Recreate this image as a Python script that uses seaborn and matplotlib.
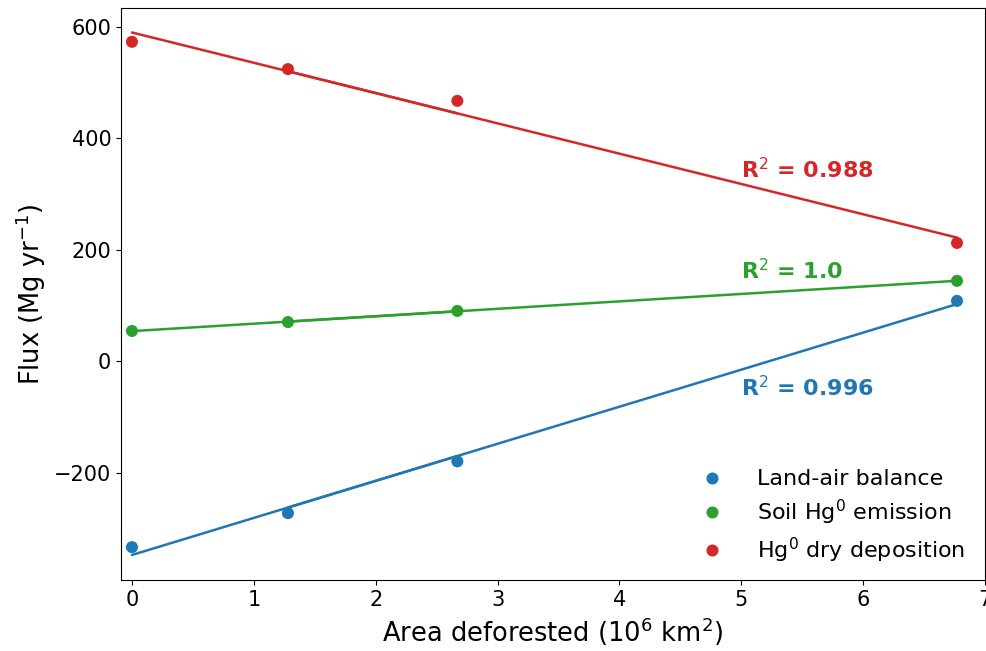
import numpy as np
import pandas as pd
import matplotlib
matplotlib.use("Agg")
import matplotlib.pyplot as plt
import seaborn as sns

area = [0.0, 1.28, 2.67, 6.77]
land_air = [-334, -273, -180, 108]
soil_emission = [54, 70, 90, 144]
dry_deposition = [573, 524, 467, 212]

labels = ["Land-air balance", "Soil Hg$^0$ emission", "Hg$^0$ dry deposition"]
r2_text = ["R$^2$ = 0.996", "R$^2$ = 1.0", "R$^2$ = 0.988"]
r2_y = [-47, 163, 343]
colors = ["#1f77b4", "#2ca02c", "#d62728"]

df = pd.concat([
    pd.DataFrame({"area": area, "flux": vals, "series": lab})
    for vals, lab in zip([land_air, soil_emission, dry_deposition], labels)
], ignore_index=True)

sns.set_style("ticks", {"axes.edgecolor": "black", "text.color": "black",
                        "axes.labelcolor": "black", "xtick.color": "black",
                        "ytick.color": "black"})
plt.rcParams["font.family"] = ["DejaVu Sans"]

fig, ax = plt.subplots(figsize=(9.87, 6.51), dpi=100)
fig.subplots_adjust(left=0.1226, right=0.998, top=0.988, bottom=0.109)

sns.scatterplot(data=df, x="area", y="flux", hue="series", palette=colors,
                s=75, linewidth=0, ax=ax, zorder=3)

x = np.array(area)
for vals, col, txt, ty in zip([land_air, soil_emission, dry_deposition], colors, r2_text, r2_y):
    k, b = np.polyfit(x, vals, 1)
    ax.plot(x, k * x + b, color=col, lw=1.8)
    ax.plot(x[1:3], k * x[1:3] + b, color=col, lw=1.8)
    ax.text(5.0, ty, txt, color=col, fontsize=16, fontweight="bold", va="center")

ax.set_xlim(-0.09, 7)
ax.set_ylim(-393, 634)
ax.set_xticks(range(0, 8))
ax.set_yticks([-200, 0, 200, 400, 600])
ax.tick_params(labelsize=15)
ax.set_xlabel("Area deforested (10$^6$ km$^2$)", fontsize=18.5)
ax.set_ylabel("Flux (Mg yr$^{-1}$)", fontsize=18.5)

ax.legend(loc="lower right", bbox_to_anchor=(1.0, -0.008), frameon=False,
          fontsize=16, handletextpad=1.0, labelspacing=0.38, title=None)

fig.savefig("out.png", dpi=100)
